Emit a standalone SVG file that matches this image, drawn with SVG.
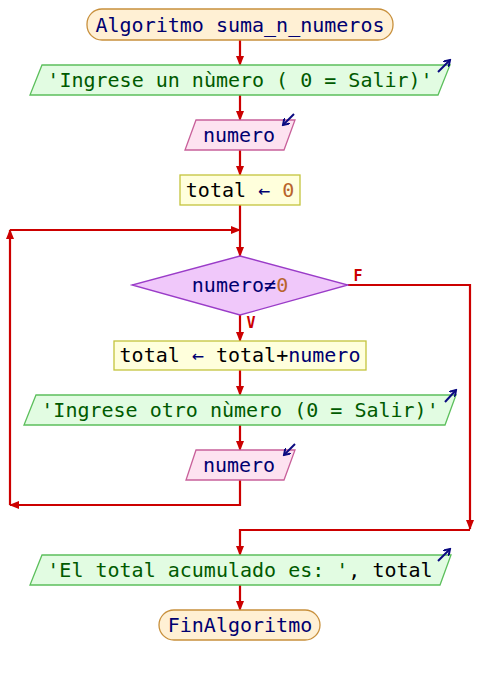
<svg xmlns="http://www.w3.org/2000/svg" width="480" height="675" viewBox="0 0 480 675">
<style>
text{font-family:"DejaVu Sans Mono","Liberation Mono",monospace;font-size:20px;text-anchor:middle}
.term{fill:#fff0d4;stroke:#c8903c;stroke-width:1.3}
.out{fill:#e2fce2;stroke:#5cbf5c;stroke-width:1.3}
.inp{fill:#fde2f0;stroke:#c8609a;stroke-width:1.3}
.asg{fill:#ffffdc;stroke:#c4c43c;stroke-width:1.3}
.dec{fill:#f0c8fa;stroke:#9a3cc8;stroke-width:1.3}
.con{fill:none;stroke:#cc0000;stroke-width:2.2}
.ico{fill:none;stroke:#0a0a80;stroke-width:2}
.kw{fill:#000070}
.str{fill:#005a00}
.num{fill:#b8642c}
.blk{fill:#000000}
.lbl{font-family:"DejaVu Sans Mono","Liberation Mono",monospace;font-size:15px;font-weight:bold;fill:#cc0000}
</style>
<defs>
<marker id="ar" markerWidth="10" markerHeight="8" refX="9" refY="4" orient="auto" markerUnits="userSpaceOnUse">
<polygon points="0,0 10,4 0,8" fill="#cc0000"/>
</marker>
<marker id="ia" markerWidth="8" markerHeight="8" refX="6" refY="4" orient="auto" markerUnits="userSpaceOnUse">
<polyline points="0,0 6,4 0,8" fill="none" stroke="#0a0a80" stroke-width="2"/>
</marker>
</defs>
<g id="connectors">
<path class="con" d="M240,40 V65" marker-end="url(#ar)"/>
<path class="con" d="M240,95 V120" marker-end="url(#ar)"/>
<path class="con" d="M240,150 V175" marker-end="url(#ar)"/>
<path class="con" d="M240,205 V256" marker-end="url(#ar)"/>
<path class="con" d="M240,315 V341" marker-end="url(#ar)"/>
<path class="con" d="M240,370 V395" marker-end="url(#ar)"/>
<path class="con" d="M240,425 V450" marker-end="url(#ar)"/>
<path class="con" d="M240,480 V505 H10" marker-end="url(#ar)"/>
<path class="con" d="M10,505 V230" marker-end="url(#ar)"/>
<path class="con" d="M10,230 H240" marker-end="url(#ar)"/>
<path class="con" d="M348,285 H470 V529" marker-end="url(#ar)"/>
<path class="con" d="M470,530 H240 V555" marker-end="url(#ar)"/>
<path class="con" d="M240,585 V610" marker-end="url(#ar)"/>
<text class="lbl" x="358" y="281">F</text>
<text class="lbl" x="251" y="328">V</text>
</g>
<g id="start">
<rect class="term" x="87" y="9" width="306" height="31" rx="15" ry="15"/>
<text x="240" y="31.5" class="kw">Algoritmo suma_n_numeros</text>
</g>
<g id="out1">
<polygon class="out" points="42,65 450,65 438,95 30,95"/>
<text x="240" y="87" class="str">'Ingrese un nùmero ( 0 = Salir)'</text>
<path class="ico" d="M438,72 L450,60" marker-end="url(#ia)"/>
</g>
<g id="in1">
<polygon class="inp" points="196,120 295,120 284,150 185,150"/>
<text x="239" y="142" class="kw">numero</text>
<path class="ico" d="M294,114 L283,125" marker-end="url(#ia)"/>
</g>
<g id="asg1">
<rect class="asg" x="180" y="175" width="120" height="30"/>
<text x="240" y="197"><tspan class="blk">total</tspan><tspan class="kw"> ← </tspan><tspan class="num">0</tspan></text>
</g>
<g id="cond">
<polygon class="dec" points="240,256 348,285 240,315 132,285"/>
<text x="240" y="292"><tspan class="kw">numero≠</tspan><tspan class="num">0</tspan></text>
</g>
<g id="asg2">
<rect class="asg" x="114" y="341" width="252" height="29"/>
<text x="240" y="362"><tspan class="blk">total</tspan><tspan class="kw"> ← </tspan><tspan class="blk">total+</tspan><tspan class="kw">numero</tspan></text>
</g>
<g id="out2">
<polygon class="out" points="36,395 456,395 445,425 24,425"/>
<text x="240" y="417" class="str">'Ingrese otro nùmero (0 = Salir)'</text>
<path class="ico" d="M445,402 L456,390" marker-end="url(#ia)"/>
</g>
<g id="in2">
<polygon class="inp" points="196,450 295,450 284,480 186,480"/>
<text x="239" y="472" class="kw">numero</text>
<path class="ico" d="M295,444 L284,455" marker-end="url(#ia)"/>
</g>
<g id="out3">
<polygon class="out" points="42,555 451,555 440,585 30,585"/>
<text x="240" y="577"><tspan class="str">'El total acumulado es: '</tspan><tspan class="blk">, total</tspan></text>
<path class="ico" d="M438,561 L450,549" marker-end="url(#ia)"/>
</g>
<g id="end">
<rect class="term" x="159" y="610" width="161" height="30" rx="15" ry="15"/>
<text x="240" y="632" class="kw">FinAlgoritmo</text>
</g>
</svg>
